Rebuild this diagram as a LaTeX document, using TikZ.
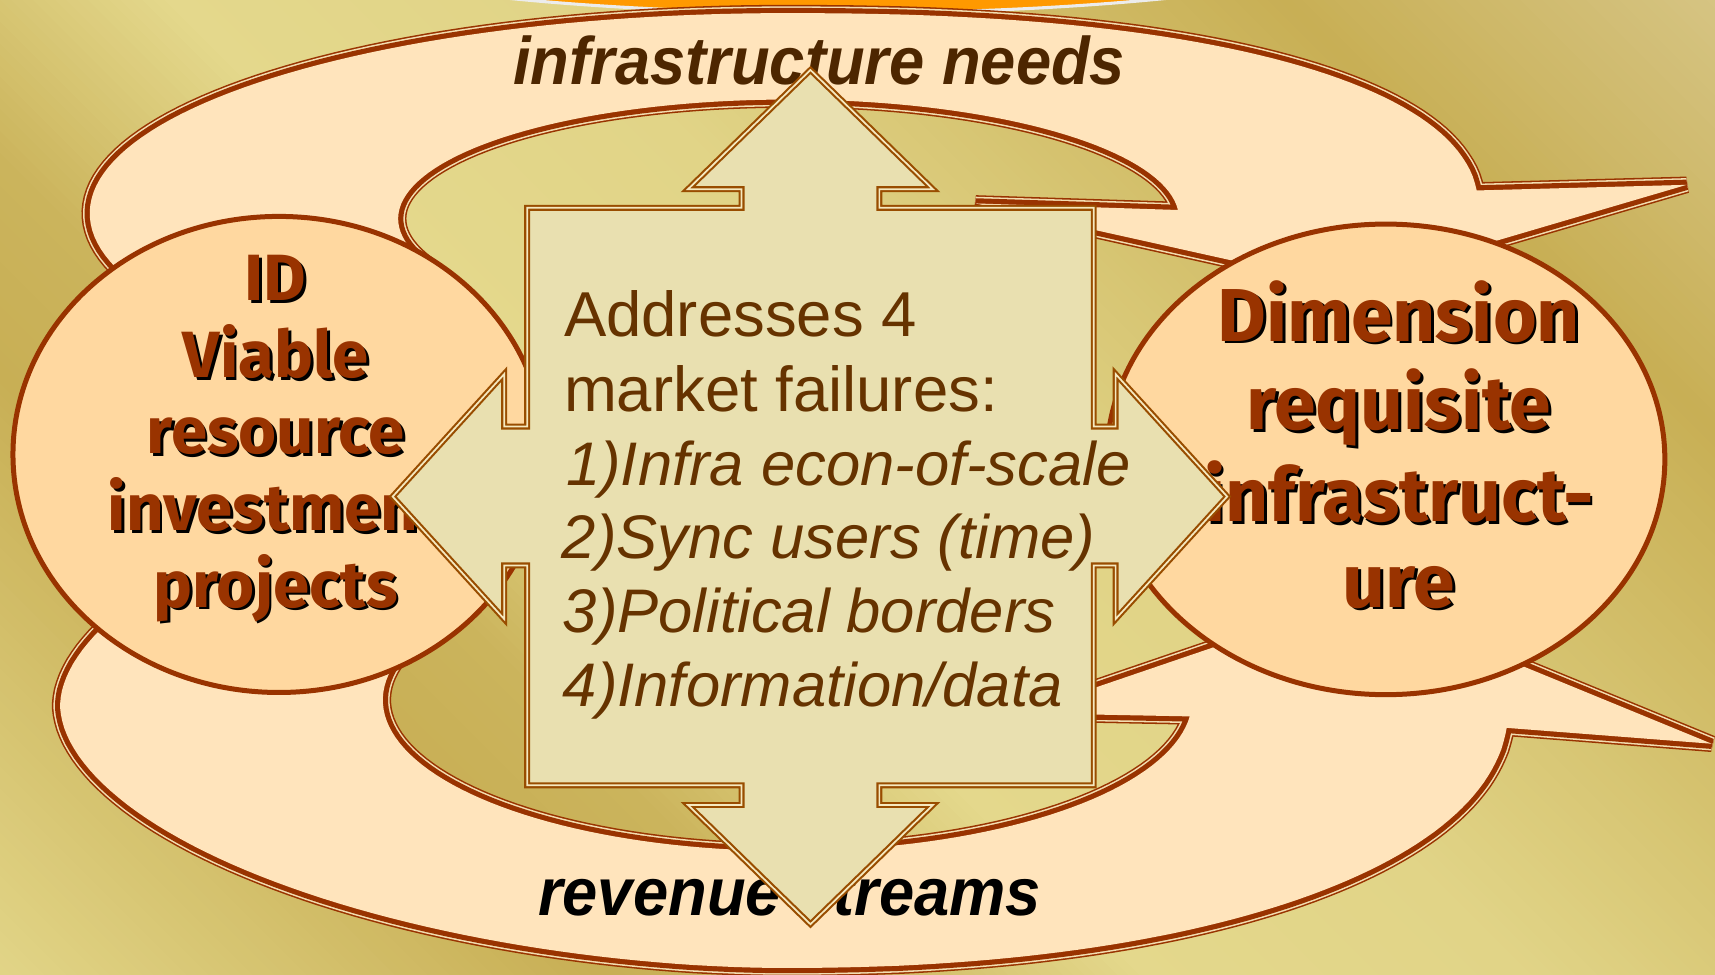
\documentclass[tikz,border=0pt]{standalone}
\usepackage{fontspec}
\setmainfont{Liberation Sans}
\newfontfamily\comicfont{Fira Sans}
\usetikzlibrary{shapes.geometric}
\definecolor{bgL}{HTML}{E4D88C}
\definecolor{bgLb}{HTML}{E1D487}
\definecolor{bgD}{HTML}{C8AF55}
\definecolor{bgDb}{HTML}{CBB45C}
\definecolor{bgC}{HTML}{D7C687}
\definecolor{bandline}{HTML}{993300}
\definecolor{bandlight}{HTML}{F3DDB0}
\definecolor{bandfill}{HTML}{FFE4BC}
\definecolor{ovalfill}{HTML}{FFD8A0}
\definecolor{quadfill}{HTML}{E9E0B0}
\definecolor{quadedge}{HTML}{994D00}
\definecolor{quadlight}{HTML}{F5E9C0}
\definecolor{txtbrown}{HTML}{663300}
\definecolor{labelbrown}{HTML}{4D2600}
\definecolor{orangetop}{HTML}{FF9900}
\tikzset{
  ovalnode/.style={ellipse, draw=bandline, line width=1.3pt, fill=ovalfill, inner sep=0pt},
  quadshape/.style={fill=quadfill, draw=quadedge, line width=0.55pt, double=quadlight, double distance=0.45pt, line join=miter},
  bodytext/.style={anchor=base west, inner sep=0pt, text=txtbrown, font=\fontsize{16.5}{19}\selectfont},
  itemtext/.style={bodytext, font=\fontsize{16}{19}\selectfont\itshape},
  leftword/.style={anchor=base, inner sep=0pt, text=bandline, font=\comicfont\bfseries\fontsize{17}{20}\selectfont},
  rightword/.style={leftword, font=\comicfont\bfseries\fontsize{19.5}{23}\selectfont},
  shadowed/.style={text=black},
  bandlabel/.style={anchor=base, inner sep=0pt, font=\fontsize{17.5}{20}\selectfont\bfseries\itshape},
  bandouter/.style={draw=bandline, line width=4.3pt, line join=miter, miter limit=2},
  bandmid/.style={draw=bandlight, line width=3.5pt, line join=miter, miter limit=2},
  bandinner/.style={draw=bandline, line width=2.7pt, line join=miter, miter limit=2},
}
\def\topbandopen{plot[domain=162.4:270, samples=60, variable=\t] ({717+635*cos(\t)}, {195+183*sin(\t)}) -- plot[domain=270.5:355.3, samples=50, variable=\t] ({717+635*(cos(\t))^0.87}, {195-183*(abs(sin(\t)))^0.87}) -- (1542,169) -- (1229,261) -- (892,186) -- (1077,192) -- plot[domain=355.8:155.6, samples=90, variable=\t] ({721+357*cos(\t)}, {200+109*sin(\t)})}
\def\botbandopen{plot[domain=203.8:90, samples=70, variable=\t] ({717-662*(abs(cos(\t))+0.0001)^1.081}, {645+240*sin(\t)*(abs(sin(\t))+0.0001)^0.081}) -- plot[domain=89.5:4, samples=60, variable=\t] ({717+662*(cos(\t))^0.93}, {645+240*(sin(\t))^0.93}) -- (1565,680) -- (1241,547) -- (933,652) -- (1088,655) -- plot[domain=6.2:200.4, samples=90, variable=\t] ({720+370*cos(\t)}, {640+138*sin(\t)})}
\begin{document}
\begin{tikzpicture}[x=0.01cm, y=-0.01cm]
\useasboundingbox (0,0) rectangle (1568,891);
% background
\begin{scope}
\clip (0,0) rectangle (1568,891);
\fill[bgD] (0,0) rectangle (1568,891);
\foreach \sa/\sb/\ca/\cb in {-950/-350/bgL/bgD, -350/-150/bgD/bgDb, -150/150/bgDb/bgL, 150/500/bgL/bgLb, 500/1170/bgLb/bgD, 1170/1600/bgD/bgC}{
  \pgfmathtruncatemacro\nn{(\sb-\sa)/10-1}
  \foreach \k in {0,...,\nn}{
    \pgfmathsetmacro\s{\sa+10*\k}
    \pgfmathsetmacro\p{100*\k/(\nn+1)}
    \fill[\cb!\p!\ca] (\s-100,-100) -- (\s+1000,1000) -- (\s+1011,1000) -- (\s-89,-100) -- cycle;
  }
}
\fill[orangetop, draw=white!85!gray, line width=0.8pt] (766,-68) ellipse [x radius=5.4cm, y radius=0.8cm];
\end{scope}
% curved bands
\draw[bandouter] \topbandopen;
\draw[bandmid] \topbandopen;
\draw[bandinner] \topbandopen;
\fill[bandfill] \topbandopen -- cycle;
\draw[bandouter] \botbandopen;
\draw[bandmid] \botbandopen;
\draw[bandinner] \botbandopen;
\fill[bandfill] \botbandopen -- cycle;
\node[bandlabel, text=labelbrown] (needs) at (749,77) {\scalebox{0.94}[1]{infrastructure needs}};
\node[bandlabel, text=black] (revenue) at (722,837) {\scalebox{0.94}[1]{revenue streams}};
% ovals
\node[ovalnode, minimum width=4.86cm, minimum height=4.35cm] (L) at (255,415.5) {};
\node[ovalnode, minimum width=5.1cm, minimum height=4.3cm] (R) at (1267,420) {};
\foreach \w/\yy/\n in {ID/275/1, Viable/345/2, resource/415/3, investment/485/4, projects/555/5}{
  \node[leftword, shadowed] (ls\n) at (254.5,\yy+2.5) {\w};
  \node[leftword] (lw\n) at (252,\yy) {\w};
}
\foreach \w/\yy/\n in {Dimension/312/1, requisite/393/2, infrastruct-/477/3, ure/555/4}{
  \node[rightword, shadowed] (rs\n) at (1281.5,\yy+2.5) {\w};
  \node[rightword] (rw\n) at (1279,\yy) {\w};
}
% central four-way arrow
\path[quadshape] (741,64) -- (853,173) -- (804,173) -- (804,190) -- (1000,190) -- (1000,390) -- (1020,390) -- (1020,342) -- (1122,454) -- (1020,566) -- (1020,517) -- (1000,517) -- (1000,718) -- (804,718) -- (804,736) -- (853,736) -- (741,845) -- (629,736) -- (678,736) -- (678,718) -- (482,718) -- (482,517) -- (461,517) -- (461,566) -- (359,454) -- (461,342) -- (461,390) -- (482,390) -- (482,190) -- (678,190) -- (678,173) -- (629,173) -- cycle;
\node[bodytext] (t1) at (515,308) {Addresses 4};
\node[bodytext] (t2) at (515,376) {market failures:};
\node[itemtext] (t3) at (517,444) {1)Infra econ-of-scale};
\node[itemtext] (t4) at (513,511) {2)Sync users (time)};
\node[itemtext] (t5) at (514,578) {3)Political borders};
\node[itemtext] (t6) at (514,646) {4)Information/data};
\end{tikzpicture}
\end{document}
